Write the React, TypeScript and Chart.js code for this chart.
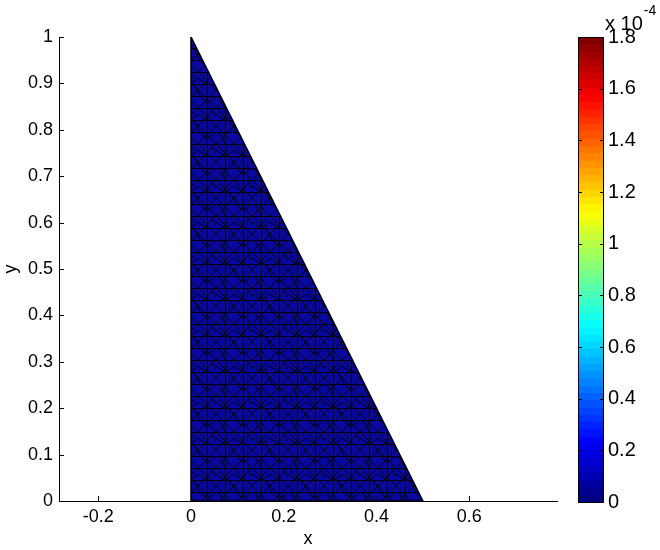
import React, { useEffect, useRef } from 'react';
import { Chart, registerables } from 'chart.js';

Chart.register(...registerables);

// ---- data ----
const TRI_X = [0, 0.5, 0, 0];
const TRI_Y = [0, 0, 1, 0];
const X_TICKS = [-0.2, 0, 0.2, 0.4, 0.6];
const Y_TICKS = [0, 0.1, 0.2, 0.3, 0.4, 0.5, 0.6, 0.7, 0.8, 0.9, 1];
const X_MIN = -0.2845;
const X_MAX = 0.789;
const Y_MIN = 0;
const Y_MAX = 1;
const CB_TICKS = [0, 0.2, 0.4, 0.6, 0.8, 1, 1.2, 1.4, 1.6, 1.8];
const CB_MIN = 0;
const CB_MAX = 1.8;
const CB_BAR = [[0, 1.8]];
const CB_EXPONENT = '-4';
const CB_LEVELS = 64;
const X_LABEL = 'x';
const Y_LABEL = 'y';

const FONT = 'Liberation Sans, Arial, sans-serif';

function fmt(v: number): string {
  return String(Math.round(v * 10) / 10);
}

function jet(v: number): string {
  const c = (a: number) => Math.max(0, Math.min(1, a));
  const r = c(Math.min(4 * v - 1.5, -4 * v + 4.5));
  const g = c(Math.min(4 * v - 0.5, -4 * v + 3.5));
  const b = c(Math.min(4 * v + 0.5, -4 * v + 2.5));
  return `rgb(${Math.round(r * 255)},${Math.round(g * 255)},${Math.round(b * 255)})`;
}

// texture that imitates the dense triangular mesh drawn over the patch
function meshPattern(ctx: CanvasRenderingContext2D): CanvasPattern | string {
  const s = 36;
  const c = document.createElement('canvas');
  c.width = s;
  c.height = s;
  const p = c.getContext('2d');
  if (!p) return '#00008f';
  p.fillStyle = '#0808a0';
  p.fillRect(0, 0, s, s);
  p.strokeStyle = 'rgba(0,0,0,0.9)';
  p.lineWidth = 1;
  p.beginPath();
  // horizontals
  [0.5, 12.5, 24.5].forEach((y) => {
    p.moveTo(0, y);
    p.lineTo(s, y);
  });
  // verticals
  [9.5, 27.5].forEach((x) => {
    p.moveTo(x, 0);
    p.lineTo(x, s);
  });
  // diagonals both ways (wrap-safe)
  for (let k = -s; k <= s; k += 18) {
    p.moveTo(k, 0);
    p.lineTo(k + s, s);
    p.moveTo(k + s, 0);
    p.lineTo(k, s);
  }
  // irregular segments
  const segs = [
    [0, 6, 9.5, 12.5], [9.5, 12.5, 18, 6], [18, 6, 27.5, 12.5],
    [3, 24.5, 9.5, 36], [20, 24.5, 27.5, 31], [27.5, 31, 36, 24.5],
    [14, 12.5, 20, 24.5], [31, 0.5, 36, 9],
  ];
  segs.forEach(([a, b, c2, d]) => {
    p.moveTo(a, b);
    p.lineTo(c2, d);
  });
  p.stroke();
  return ctx.createPattern(c, 'repeat') || '#00008f';
}

const mainTicks = {
  id: 'mainTicks',
  afterDraw(chart: any) {
    const { ctx, chartArea, scales } = chart;
    const { left, bottom } = chartArea;
    ctx.save();
    ctx.strokeStyle = '#000';
    ctx.lineWidth = 1;
    ctx.beginPath();
    X_TICKS.forEach((v) => {
      const px = Math.round(scales.x.getPixelForValue(v)) + 0.5;
      ctx.moveTo(px, bottom);
      ctx.lineTo(px, bottom - 5);
    });
    Y_TICKS.forEach((v) => {
      const py = Math.round(scales.y.getPixelForValue(v)) + 0.5;
      ctx.moveTo(left, py);
      ctx.lineTo(left + 5, py);
    });
    ctx.stroke();
    ctx.restore();
  },
};

const cbDecor = {
  id: 'cbDecor',
  afterDraw(chart: any) {
    const { ctx, chartArea, scales } = chart;
    const { left, right, top, bottom } = chartArea;
    ctx.save();
    ctx.strokeStyle = '#000';
    ctx.lineWidth = 1;
    ctx.strokeRect(Math.round(left) + 0.5, Math.round(top) + 0.5, Math.round(right - left) - 1, Math.round(bottom - top));
    ctx.beginPath();
    CB_TICKS.forEach((v) => {
      const py = Math.round(scales.y.getPixelForValue(v)) + 0.5;
      ctx.moveTo(left, py);
      ctx.lineTo(left + 4, py);
      ctx.moveTo(right, py);
      ctx.lineTo(right - 4, py);
    });
    ctx.stroke();
    ctx.fillStyle = '#000';
    ctx.textBaseline = 'alphabetic';
    ctx.textAlign = 'left';
    ctx.font = `20px ${FONT}`;
    const base = 'x 10';
    ctx.fillText(base, right + 1, top - 7);
    const w = ctx.measureText(base).width;
    ctx.font = `14px ${FONT}`;
    ctx.fillText(CB_EXPONENT, right + 2 + w, top - 22);
    ctx.restore();
  },
};

export default function App() {
  const mainRef = useRef<HTMLCanvasElement>(null);
  const cbRef = useRef<HTMLCanvasElement>(null);

  useEffect(() => {
    const mc = mainRef.current!;
    const cc = cbRef.current!;
    const mctx = mc.getContext('2d')!;
    const pattern = meshPattern(mctx);

    const main = new Chart(mc, {
      type: 'scatter',
      data: {
        datasets: [
          {
            data: TRI_X.map((x, i) => ({ x, y: TRI_Y[i] })),
            showLine: true,
            fill: 'shape',
            backgroundColor: pattern as any,
            borderColor: '#000010',
            borderWidth: 1.5,
            pointRadius: 0,
            tension: 0,
          } as any,
        ],
      },
      options: {
        animation: false,
        responsive: false,
        events: [],
        layout: { padding: { top: 37, right: 13, left: 0, bottom: 0 } },
        plugins: { legend: { display: false }, tooltip: { enabled: false } },
        scales: {
          x: {
            type: 'linear',
            min: X_MIN,
            max: X_MAX,
            afterBuildTicks: (s: any) => {
              s.ticks = X_TICKS.map((v) => ({ value: v }));
            },
            afterFit: (s: any) => {
              s.height = 49;
            },
            grid: { display: false, drawTicks: false },
            border: { display: true, color: '#000', width: 1 },
            ticks: {
              color: '#000',
              font: { family: FONT, size: 18 },
              padding: 5,
              maxRotation: 0,
              autoSkip: false,
              callback: (v: any) => fmt(Number(v)),
            },
            title: {
              display: true,
              text: X_LABEL,
              color: '#000',
              font: { family: FONT, size: 18 },
              padding: { top: 0, bottom: 0 },
            },
          },
          y: {
            type: 'linear',
            min: Y_MIN,
            max: Y_MAX,
            afterBuildTicks: (s: any) => {
              s.ticks = Y_TICKS.map((v) => ({ value: v }));
            },
            afterFit: (s: any) => {
              s.width = 59;
            },
            grid: { display: false, drawTicks: false },
            border: { display: true, color: '#000', width: 1 },
            ticks: {
              color: '#000',
              font: { family: FONT, size: 18 },
              padding: 6,
              autoSkip: false,
              callback: (v: any) => fmt(Number(v)),
            },
            title: {
              display: true,
              text: Y_LABEL,
              color: '#000',
              font: { family: FONT, size: 18 },
              padding: { top: 0, bottom: 0 },
            },
          },
        },
      },
      plugins: [mainTicks],
    });

    const cb = new Chart(cc, {
      type: 'bar',
      data: {
        labels: [''],
        datasets: [
          {
            data: CB_BAR as any,
            barPercentage: 1,
            categoryPercentage: 1,
            borderWidth: 0,
            backgroundColor: (c: any) => {
              const area = c.chart.chartArea;
              if (!area) return '#00008f';
              const g = c.chart.ctx.createLinearGradient(0, area.bottom, 0, area.top);
              for (let i = 0; i < CB_LEVELS; i++) {
                const col = jet(i / (CB_LEVELS - 1));
                g.addColorStop(i / CB_LEVELS, col);
                g.addColorStop(Math.min(1, (i + 1) / CB_LEVELS - 1e-6), col);
              }
              return g;
            },
          } as any,
        ],
      },
      options: {
        animation: false,
        responsive: false,
        events: [],
        layout: { padding: { top: 37, left: 8, right: 0, bottom: 48 } },
        plugins: { legend: { display: false }, tooltip: { enabled: false } },
        scales: {
          x: { display: false },
          y: {
            position: 'right',
            min: CB_MIN,
            max: CB_MAX,
            afterBuildTicks: (s: any) => {
              s.ticks = CB_TICKS.map((v) => ({ value: v }));
            },
            afterFit: (s: any) => {
              s.width = 56;
            },
            grid: { display: false, drawTicks: false },
            border: { display: false },
            ticks: {
              color: '#000',
              font: { family: FONT, size: 20 },
              padding: 4,
              autoSkip: false,
              callback: (v: any) => fmt(Number(v)),
            },
          },
        },
      },
      plugins: [cbDecor],
    });

    return () => {
      main.destroy();
      cb.destroy();
    };
  }, []);

  return (
    <div style={{ position: 'absolute', left: 0, top: 0, width: 660, height: 550, background: '#fff' }}>
      <canvas ref={mainRef} width={570} height={550} style={{ position: 'absolute', left: 0, top: 0 }} />
      <canvas ref={cbRef} width={90} height={550} style={{ position: 'absolute', left: 570, top: 0 }} />
    </div>
  );
}
